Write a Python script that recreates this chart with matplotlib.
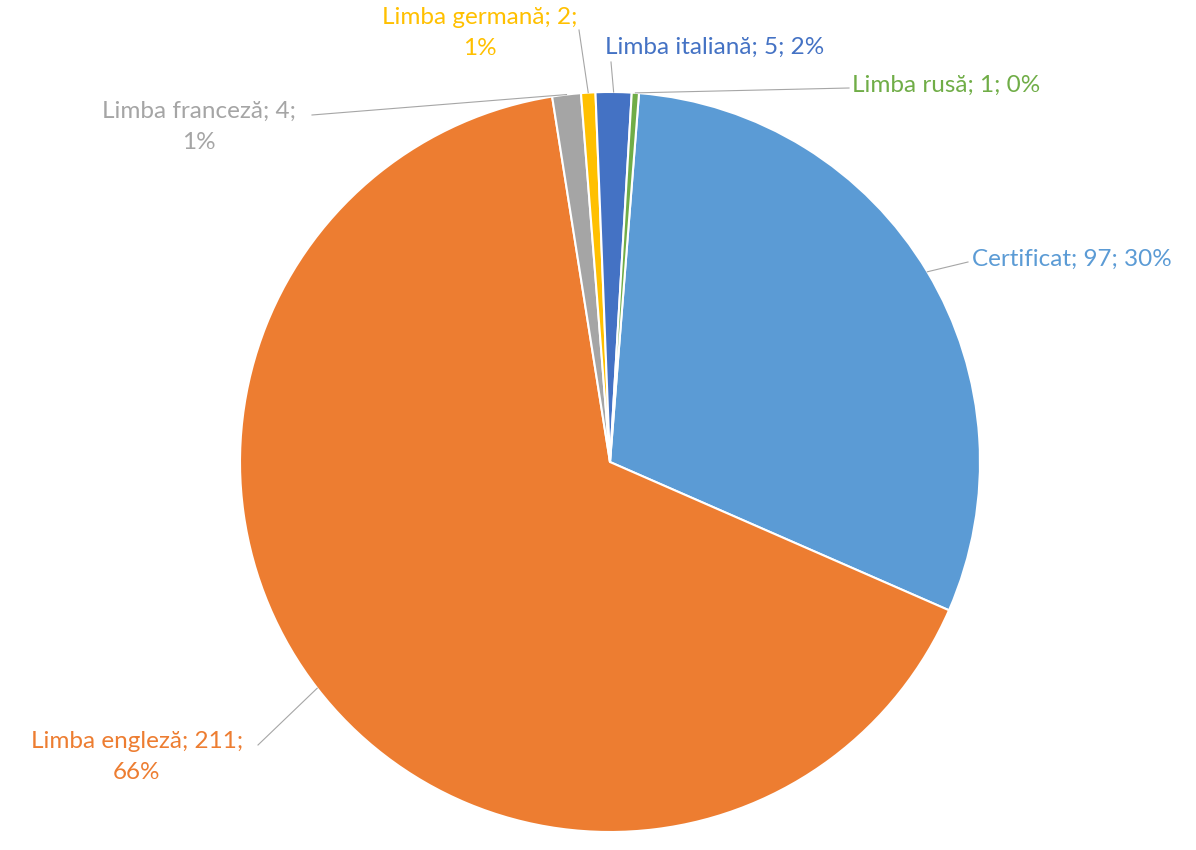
import numpy as np
import matplotlib.pyplot as plt

# data
categories = ['Certificat', 'Limba engleză', 'Limba franceză', 'Limba germană', 'Limba italiană', 'Limba rusă']
values = [97, 211, 4, 2, 5, 1]
colors = ['#5B9BD5', '#ED7D31', '#A5A5A5', '#FFC000', '#4472C4', '#70AD47']
label_texts = ['Certificat; 97; 30%', 'Limba engleză; 211;\n66%', 'Limba franceză; 4;\n1%',
               'Limba germană; 2;\n1%', 'Limba italiană; 5; 2%', 'Limba rusă; 1; 0%']

# layout (pixels of the 1196x850 picture)
W, H = 1196, 850
CX, CY, R = 610, 462, 370
label_pos = [(972, 259), (137, 757), (199, 127), (480, 33), (605, 47), (852, 85)]
label_ha = ['left', 'center', 'center', 'center', 'left', 'left']
line_end = [(968, 262), (258, 745), (312, 115), (579, 30), (611, 62), (849, 88)]


def px(x, y):
    return (x - CX) / R, (CY - y) / R


plt.rcParams['font.family'] = ['Lato', 'DejaVu Sans']

fig = plt.figure(figsize=(W / 100, H / 100), dpi=100)
ax = fig.add_axes([0, 0, 1, 1])
wedges, _ = ax.pie(values, colors=colors, startangle=85.5, counterclock=False, radius=1,
                   wedgeprops=dict(edgecolor='white', linewidth=1.5))

for i, w in enumerate(wedges):
    mid = np.deg2rad((w.theta1 + w.theta2) / 2)
    ex, ey = px(*line_end[i])
    ax.plot([np.cos(mid), ex], [np.sin(mid), ey], color='#A6A6A6', lw=0.8)
    tx, ty = px(*label_pos[i])
    ax.text(tx, ty, label_texts[i], color=colors[i], fontsize=17.5, ha=label_ha[i], va='center',
            multialignment='center', linespacing=1.55)

ax.set_xlim(-CX / R, (W - CX) / R)
ax.set_ylim(-(H - CY) / R, CY / R)
ax.set_aspect('auto')
ax.axis('off')

fig.savefig('out.png', dpi=100)
